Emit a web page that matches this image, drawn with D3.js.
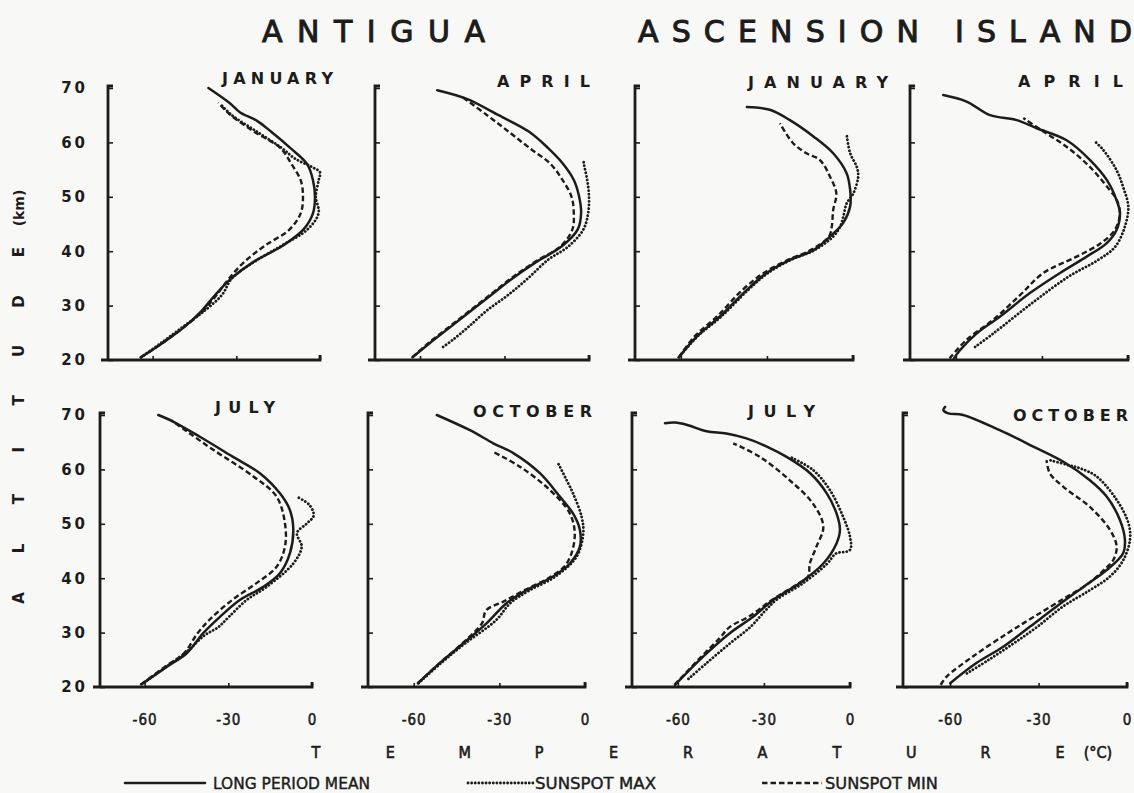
<!DOCTYPE html>
<html><head><meta charset="utf-8">
<script src="https://cdn.jsdelivr.net/npm/d3@7/dist/d3.min.js"></script>
<style>
html,body{margin:0;padding:0;background:#f8f8f6;}
svg{display:block;}
</style></head><body>
<svg id="c" width="1134" height="793"></svg>
<script>
// ---------------- DATA ----------------
const STATIONS = ["ANTIGUA", "ASCENSION ISLAND"];
const MONTHS = ["JANUARY", "APRIL", "JULY", "OCTOBER"];
const SERIES = ["LONG PERIOD MEAN", "SUNSPOT MAX", "SUNSPOT MIN"];
const ALT_TICKS = [20, 30, 40, 50, 60, 70];
const TEMP_TICKS = [-60, -30, 0];
const ALT_DOMAIN = [20, 70];
const TEMP_DOMAIN = [-76, 0];
const Y_TITLE = "ALTITUDE";
const Y_UNIT = "(km)";
const X_TITLE = "TEMPERATURE";
const X_UNIT = "(°C)";

// [altitude km, temperature °C]
const antiguaJanMean = [[20.5,-64.2],[23,-56.8],[26,-48.8],[29,-42.5],[32,-37.5],[35,-31.8],[38,-24],[41,-13.4],[44,-5.9],[47,-2.5],[50,-1.8],[53,-2.5],[56,-4.6],[59,-10.7],[62,-17.6],[64,-22.7],[65.5,-28.6],[67.2,-32.3],[70,-40]];
const antiguaJanMax  = [[20.5,-64.2],[23,-57.3],[26,-49.4],[29,-41.5],[32,-35.1],[35,-31.6],[38,-23.7],[41,-13.8],[44,-4.5],[47,-0.5],[50,-1.5],[53,-0.5],[54.5,0],[55.5,-3],[57,-8.9],[59,-13.8],[62,-22.7],[65,-31.6],[67,-35.6]];
const antiguaJanMin  = [[20.5,-64.2],[23,-56.8],[26,-48.9],[29,-42],[32,-37],[35,-32.6],[38,-27.2],[41,-19.8],[44,-10.9],[47,-6.9],[50,-6.1],[53,-6.9],[56,-10.2],[59,-14.3],[62,-23.7],[65,-32],[67.3,-36.5]];

const antiguaAprMean = [[20.5,-62.7],[23,-56.8],[26,-49.4],[29,-42],[32,-34.6],[35,-27.2],[38,-18.8],[41,-9.4],[44,-4],[47,-2.8],[50,-3.5],[53,-5.3],[56,-9.1],[59,-14.6],[62,-21.4],[65,-32.1],[68,-43.4],[69.6,-53.9]];
const antiguaAprMax  = [[22.4,-51.8],[23.7,-48.4],[26,-43],[29,-36.5],[32,-28.6],[35,-21.7],[38.4,-14.6],[40.8,-7.5],[44,-2],[47,-0.3],[50,0],[53,-0.6],[56,-1.8],[57,-2]];
const antiguaAprMin  = [[20.5,-62.7],[23,-57.3],[26,-49.9],[29,-42.5],[32,-35.1],[35,-27.7],[38,-19.3],[41,-9.9],[44,-5.9],[47,-5.4],[50,-6.2],[53,-9.3],[56,-13.6],[59,-21.2],[62,-28.6],[65,-36.2],[68.5,-45.4]];

const antiguaJulMean = [[20.7,-60.5],[23.7,-52.1],[26.2,-44.9],[29.9,-39],[32.9,-33],[36,-25.9],[38.4,-17.5],[40.9,-11.5],[44.6,-7.9],[48.9,-6.7],[52.5,-7.9],[55.6,-11.5],[59.3,-18.7],[62.3,-28.3],[66,-40.2],[68.8,-49.8],[70,-55.1]];
const antiguaJulMax  = [[20.5,-61.2],[23.7,-52.3],[26.5,-44.9],[29.5,-38.5],[31,-33.6],[33,-29.6],[36,-23.4],[38.4,-16.3],[42.7,-6.7],[45.8,-3.7],[48.3,-5.4],[50,-2],[51.5,0.6],[53.5,-1],[55,-5.6]];
const antiguaJulMin  = [[20.5,-61.2],[23.7,-52.8],[26.2,-45.9],[29.9,-41],[32.5,-36.5],[36,-28.6],[39.1,-19.9],[42.1,-12.7],[45.8,-9.7],[50.1,-9.7],[55,-12.7],[58.7,-21],[63.6,-35.4],[67,-44.9],[69,-50.4]];

const antiguaOctMean = [[20.7,-58.5],[24.4,-50.9],[28,-42.7],[31.7,-34.5],[35.4,-27.5],[37.8,-20.5],[40.3,-11.2],[42.7,-5.3],[45.8,-1.8],[48.9,-1.8],[51.9,-4.2],[55,-8.8],[59.3,-15.8],[63,-25.1],[64.8,-32.1],[67.2,-40.3],[70,-51.9]];
const antiguaOctMax  = [[20.7,-58.3],[24.4,-50.4],[28,-42],[32.3,-31.1],[35.4,-26.2],[37.8,-19.3],[40.3,-10.4],[44,-2.9],[48.3,-0.6],[51.3,-1.2],[55.6,-4.2],[58.5,-6.9],[60.5,-8.8],[61.3,-9.6]];
const antiguaOctMin  = [[20.7,-58.5],[24.4,-50.9],[28,-43],[31.7,-36.1],[34.1,-34.6],[35.7,-28.6],[37.8,-21.2],[40.3,-11.9],[42.7,-6.4],[47.6,-3.6],[51.9,-5.3],[56.2,-12.3],[60.5,-22.8],[63.2,-32.1]];

const ascensionJanMean = [[20.5,-60.7],[24.3,-54.5],[28,-46.4],[32.9,-37],[36,-30.1],[38.4,-22],[40.2,-13.8],[42.7,-8],[45.2,-3.4],[48.2,-1],[51.3,-1],[54.3,-2.2],[58,-6.9],[61.1,-13.8],[64.1,-22],[66,-29],[66.5,-37]];
const ascensionJanMax  = [[20.5,-60.7],[24.3,-54.3],[28,-45.9],[32.9,-36.5],[36,-29.6],[38.4,-21.7],[40.2,-13.4],[42.7,-6.9],[44.5,-4.5],[46.3,-3.4],[48.8,-2.2],[50.6,0.1],[53.7,1.8],[55.5,1.3],[58,-1],[61.4,-2.2]];
const ascensionJanMin  = [[20.5,-60.7],[24.3,-55.3],[28,-47.4],[32.9,-38.5],[36,-31.1],[38.4,-22.7],[40.2,-14.8],[42.7,-8.4],[44.5,-7.4],[47.6,-6.9],[50.6,-5.8],[53.7,-8],[56.8,-11.6],[58,-16.2],[59.8,-20.8],[63.5,-25.5]];

const ascensionAprMean = [[20.3,-60.7],[21.8,-58.6],[24.9,-52.7],[28,-44.6],[32.3,-34.2],[36,-23.7],[39,-14.4],[41.5,-7.4],[43.9,-4],[47,-2.8],[49.4,-4],[53.1,-7.4],[56.8,-13.3],[60.4,-21.4],[62.6,-31.8],[64.1,-38.8],[65,-48.1],[67.5,-56.3],[68.7,-64.4]];
const ascensionAprMax  = [[22.4,-53.3],[24.9,-46.9],[30.4,-33.6],[35.3,-20.8],[38.4,-10.4],[40.8,-4.5],[44.5,-1.1],[48.2,0.1],[51.8,-1.7],[54.9,-4],[58.6,-8.6],[60.2,-11.6]];
const ascensionAprMin  = [[20.3,-62.2],[23.7,-56.3],[27.4,-47],[32,-37.5],[36,-29.5],[39,-17.9],[41.5,-9.4],[44,-4.5],[47,-2.8],[49.5,-4],[51.2,-6.3],[55.5,-13.3],[59.2,-21.4],[62,-29.5],[64.5,-36.5]];

const ascensionJulMean = [[20.4,-61],[25.6,-51.2],[29.9,-41.9],[32.9,-33.8],[36,-26.8],[39.1,-17.5],[42.7,-9.3],[46.4,-4.7],[48.9,-3.5],[51.9,-4.7],[55.6,-8.1],[59.3,-13.9],[62.3,-22.1],[64.2,-29],[65.7,-36.1],[66.6,-43.1],[67,-50],[68.2,-57],[68.6,-61],[68.5,-64.5]];
const ascensionJulMax  = [[21.5,-56.3],[24.4,-50],[28,-41.9],[31.1,-34.6],[34,-29.6],[36,-25.7],[39.1,-16.3],[42.7,-7.9],[44.5,-5],[45.2,0],[47.6,0],[51.3,-2.4],[56.2,-7],[59.9,-12.9],[62.3,-21]];
const ascensionJulMin  = [[20.4,-61.2],[25.6,-51.8],[29,-45.4],[31,-42],[33,-35.1],[36,-27.2],[39.1,-17.8],[40.3,-14.6],[42.7,-14],[45.8,-11.7],[49.5,-9.3],[53.7,-12.9],[58,-21],[62.3,-31.4],[64.8,-40.7]];

const ascensionOctMean = [[20.7,-60],[24.4,-51.1],[27.4,-42],[31.1,-32.9],[34.8,-23.9],[38.4,-14.8],[41.5,-6.9],[44.6,-1.3],[47,-0.7],[50.7,-2.4],[55,-6.9],[58,-12.6],[61.4,-21.6],[64.2,-31.8],[67.2,-43.2],[70,-55.6],[70.3,-60.6],[70.9,-62.3],[71.5,-61.7]];
const ascensionOctMax  = [[22.5,-54.3],[25,-46.9],[28,-38.5],[31,-30.6],[34.8,-21.7],[37.8,-12.6],[40.3,-5.8],[43.3,-1.3],[47,1],[50.1,0.5],[54.4,-3.5],[58.7,-10.3],[60.2,-15.9],[60.8,-20],[61.7,-26.2]];
const ascensionOctMin  = [[20.4,-63.2],[21.9,-61.2],[25.6,-52.3],[29.9,-40.5],[32.9,-31.6],[36,-22.2],[39.1,-12.9],[42,-6.9],[43.3,-4.7],[45.8,-3.5],[48.9,-5.8],[53.1,-12.6],[56.8,-21.6],[59.3,-26.2],[61.7,-27.3]];

// ---------------- LAYOUT ----------------
const ink = "#1c1c1c";
const svg = d3.select("#c");
const FONT = "'DejaVu Sans', 'Liberation Sans', sans-serif";

const rows = [{yTop: 88, yBot: 360}, {yTop: 415, yBot: 687}];
const panels = [
  {row:0, col:0, x0:108, x1:320, month:MONTHS[0], lab:[222,333,78], s:[antiguaJanMean, antiguaJanMax, antiguaJanMin]},
  {row:0, col:1, x0:375, x1:589, month:MONTHS[1], lab:[497,590,81], s:[antiguaAprMean, antiguaAprMax, antiguaAprMin]},
  {row:0, col:2, x0:635, x1:853, month:MONTHS[0], lab:[748,888,82], s:[ascensionJanMean, ascensionJanMax, ascensionJanMin]},
  {row:0, col:3, x0:910, x1:1128, month:MONTHS[1], lab:[1018,1123,81], s:[ascensionAprMean, ascensionAprMax, ascensionAprMin]},
  {row:1, col:0, x0:100, x1:312, month:MONTHS[2], lab:[215,275,407], s:[antiguaJulMean, antiguaJulMax, antiguaJulMin]},
  {row:1, col:1, x0:368, x1:585, month:MONTHS[3], lab:[473,592,411], s:[antiguaOctMean, antiguaOctMax, antiguaOctMin]},
  {row:1, col:2, x0:632, x1:850, month:MONTHS[2], lab:[748,815,411], s:[ascensionJulMean, ascensionJulMax, ascensionJulMin]},
  {row:1, col:3, x0:903, x1:1127, month:MONTHS[3], lab:[1013,1128,415], s:[ascensionOctMean, ascensionOctMax, ascensionOctMin]}
];

const styles = [
  {w: 2.5, dash: null, cap: "round"},
  {w: 2.8, dash: "0.1 3.5", cap: "round"},
  {w: 2.4, dash: "5.5 3", cap: "butt"}
];

panels.forEach(p => {
  const r = rows[p.row];
  const x = d3.scaleLinear().domain(TEMP_DOMAIN).range([p.x0, p.x1]);
  const y = d3.scaleLinear().domain(ALT_DOMAIN).range([r.yBot, r.yTop]);
  const g = svg.append("g");

  // y ticks (inward)
  const ya = g.append("g").attr("transform", `translate(${p.x0},0)`)
    .call(d3.axisRight(y).tickValues(ALT_TICKS).tickSize(5).tickSizeOuter(0).tickFormat(""));
  ya.select(".domain").remove();
  ya.selectAll("line").attr("stroke", ink).attr("stroke-width", 1.6);

  // x ticks (inward)
  const xa = g.append("g").attr("transform", `translate(0,${r.yBot})`)
    .call(d3.axisTop(x).tickValues(TEMP_TICKS).tickSize(4).tickSizeOuter(0).tickFormat(""));
  xa.select(".domain").remove();
  xa.selectAll("line").attr("stroke", ink).attr("stroke-width", 1.6);

  // axis lines
  g.append("path")
    .attr("d", `M${p.x0 + 5},${r.yTop - 2}H${p.x0}V${r.yBot}`)
    .attr("fill", "none").attr("stroke", ink).attr("stroke-width", 2.8);
  g.append("path")
    .attr("d", `M${p.x0 - 7},${r.yBot}H${p.x1}V${r.yBot - 5}`)
    .attr("fill", "none").attr("stroke", ink).attr("stroke-width", 2.8);

  // y labels in first column
  if (p.col === 0) {
    const yl = g.append("g").attr("transform", `translate(${p.x0},0)`)
      .call(d3.axisLeft(y).tickValues(ALT_TICKS).tickSize(0).tickPadding(p.x0 - 88).tickFormat(d3.format("d")));
    yl.select(".domain").remove();
    yl.selectAll("text").attr("font-family", FONT).attr("font-size", 15).attr("font-weight", "bold")
      .attr("letter-spacing", 3).attr("fill", ink);
  }
  // x labels in bottom row
  if (p.row === 1) {
    const xl = g.append("g").attr("transform", `translate(0,${r.yBot})`)
      .call(d3.axisBottom(x).tickValues(TEMP_TICKS).tickSize(0).tickPadding(27).tickFormat(d => String(d)));
    xl.select(".domain").remove();
    xl.selectAll("text").attr("font-family", FONT).attr("font-size", 15).attr("fill", ink)
      .attr("font-stretch", "condensed").attr("letter-spacing", 1)
      .attr("stroke", ink).attr("stroke-width", 0.5);
  }

  // month label
  g.append("text").text(p.month)
    .attr("x", p.lab[0]).attr("y", p.lab[2] + 6)
    .attr("textLength", p.lab[1] - p.lab[0]).attr("lengthAdjust", "spacing")
    .attr("font-family", FONT).attr("font-size", 16).attr("font-weight", "bold").attr("fill", ink);

  // curves
  const line = d3.line().x(d => x(d[1])).y(d => y(d[0])).curve(d3.curveCatmullRom.alpha(0.5));
  p.s.forEach((data, i) => {
    const st = styles[i];
    g.append("path").datum(data).attr("d", line)
      .attr("fill", "none").attr("stroke", ink).attr("stroke-width", st.w)
      .attr("stroke-linecap", st.cap).attr("stroke-linejoin", "round")
      .attr("stroke-dasharray", st.dash);
  });
});

// station titles
const titles = [[STATIONS[0], 262, 485], [STATIONS[1], 638, 1132]];
titles.forEach(t => {
  svg.append("text").text(t[0]).attr("x", t[1]).attr("y", 42)
    .attr("textLength", t[2] - t[1]).attr("lengthAdjust", "spacing")
    .attr("font-family", FONT).attr("font-size", 30).attr("fill", ink)
    .attr("stroke", ink).attr("stroke-width", 1);
});

// y axis title (vertical, spaced letters)
const yPos = d3.scalePoint().domain(d3.range(Y_TITLE.length)).range([598, 252]);
const yt = svg.append("text").attr("transform", "translate(24,0) rotate(-90)")
  .attr("font-family", FONT).attr("font-size", 15).attr("font-weight", "bold").attr("fill", ink)
  .attr("text-anchor", "middle");
yt.append("tspan").text(Y_TITLE)
  .attr("x", d3.range(Y_TITLE.length).map(i => -yPos(i)).join(" ")).attr("y", 0);
yt.append("tspan").text(Y_UNIT).attr("x", -208).attr("y", 0).attr("font-size", 14);

// x axis title (spaced letters)
const xPos = d3.scalePoint().domain(d3.range(X_TITLE.length)).range([316, 1060]);
const xt = svg.append("text").attr("font-family", FONT).attr("font-size", 16)
  .attr("font-stretch", "condensed").attr("fill", ink).attr("text-anchor", "middle")
  .attr("stroke", ink).attr("stroke-width", 0.6);
xt.append("tspan").text(X_TITLE)
  .attr("x", d3.range(X_TITLE.length).map(i => xPos(i)).join(" ")).attr("y", 758);
xt.append("tspan").text(X_UNIT).attr("x", 1098).attr("y", 758);

// legend
const legend = [
  {x1:125, x2:205, tx:213, tw:157},
  {x1:468, x2:533, tx:535, tw:121},
  {x1:762, x2:822, tx:825, tw:113}
];
legend.forEach((l, i) => {
  const st = styles[i];
  svg.append("line").attr("x1", l.x1).attr("x2", l.x2).attr("y1", 783).attr("y2", 783)
    .attr("stroke", ink).attr("stroke-width", st.w).attr("stroke-dasharray", st.dash)
    .attr("stroke-linecap", st.cap);
  svg.append("text").text(SERIES[i]).attr("x", l.tx).attr("y", 789)
    .attr("textLength", l.tw).attr("lengthAdjust", "spacingAndGlyphs")
    .attr("font-family", FONT).attr("font-size", 15).attr("fill", ink)
    .attr("stroke", ink).attr("stroke-width", 0.4);
});
</script>
</body></html>
